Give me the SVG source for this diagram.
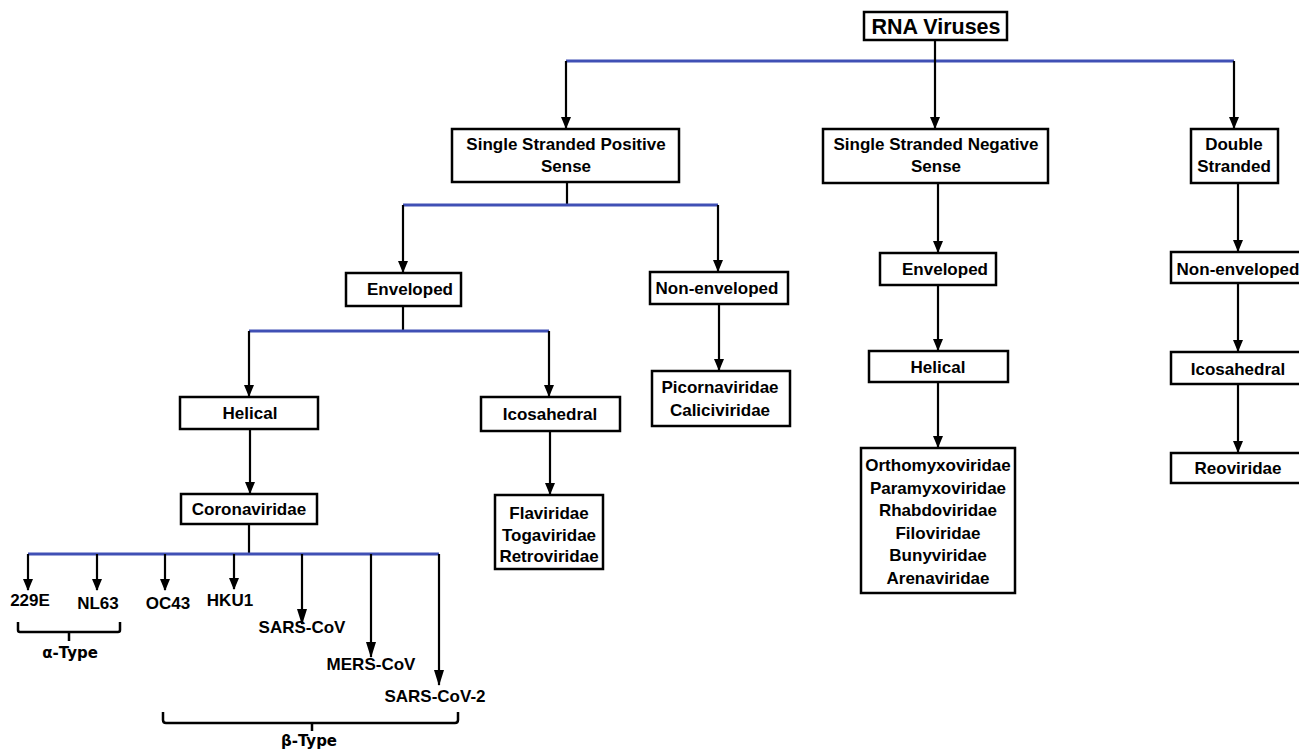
<svg xmlns="http://www.w3.org/2000/svg" width="1299" height="750" viewBox="0 0 1299 750">
<style>
.box{fill:#fff;stroke:#000;stroke-width:2.5}
.t{font-family:"Liberation Sans",Arial,sans-serif;font-weight:bold;font-size:17px;fill:#000;text-anchor:middle}
.big{font-size:21.5px}
.g{font-family:"DejaVu Sans","Liberation Sans",sans-serif;font-size:15px}
.bl{stroke:#4050b5;stroke-width:3;fill:none}
.ar{stroke:#000;stroke-width:2.2;fill:none;marker-end:url(#ah)}
.arl{stroke:#000;stroke-width:2.2;fill:none;marker-end:url(#ahl)}
.ln{stroke:#000;stroke-width:2.2;fill:none}
.br{stroke:#000;stroke-width:2.5;fill:none}
</style>
<defs>
<marker id="ah" markerWidth="12" markerHeight="12" refX="11" refY="6" orient="auto" markerUnits="userSpaceOnUse">
<path d="M0,1 L12,6 L0,11 Z" fill="#000"/>
</marker>
<marker id="ahl" markerWidth="16" markerHeight="12" refX="15" refY="6" orient="auto" markerUnits="userSpaceOnUse">
<path d="M0,1 L16,6 L0,11 Z" fill="#000"/>
</marker>
</defs>
<g id="connectors">
<line class="bl" x1="566" y1="61" x2="1234" y2="61"/>
<line class="ar" x1="566" y1="61" x2="566" y2="128"/>
<line class="ar" x1="935" y1="40" x2="935" y2="128"/>
<line class="ar" x1="1234" y1="61" x2="1234" y2="128"/>
<line class="ln" x1="567" y1="182" x2="567" y2="205"/>
<line class="bl" x1="403" y1="205" x2="718" y2="205"/>
<line class="ar" x1="403" y1="205" x2="403" y2="272"/>
<line class="ar" x1="718" y1="205" x2="718" y2="271"/>
<line class="ln" x1="403" y1="306" x2="403" y2="331"/>
<line class="bl" x1="249" y1="331" x2="549" y2="331"/>
<line class="ar" x1="249" y1="331" x2="249" y2="396"/>
<line class="ar" x1="549" y1="331" x2="549" y2="396"/>
<line class="ar" x1="250" y1="429" x2="250" y2="493"/>
<line class="ar" x1="550" y1="431" x2="550" y2="494"/>
<line class="ar" x1="719" y1="304" x2="719" y2="370"/>
<line class="ar" x1="938" y1="183" x2="938" y2="252"/>
<line class="ar" x1="938" y1="285" x2="938" y2="350"/>
<line class="ar" x1="938" y1="382" x2="938" y2="447"/>
<line class="ar" x1="1238" y1="183" x2="1238" y2="251"/>
<line class="ar" x1="1238" y1="283" x2="1238" y2="351"/>
<line class="ar" x1="1238" y1="384" x2="1238" y2="452"/>
<line class="ln" x1="249" y1="524" x2="249" y2="554"/>
<line class="bl" x1="28" y1="554" x2="439" y2="554"/>
<line class="ar" x1="28" y1="554" x2="28" y2="590"/>
<line class="ar" x1="97" y1="554" x2="97" y2="590"/>
<line class="ar" x1="165" y1="554" x2="165" y2="590"/>
<line class="ar" x1="234" y1="554" x2="234" y2="589"/>
<line class="arl" x1="302" y1="554" x2="302" y2="624"/>
<line class="arl" x1="371" y1="554" x2="371" y2="657"/>
<line class="arl" x1="439" y1="554" x2="439" y2="685"/>
</g>
<g id="n-rna"><rect class="box" x="864" y="12" width="143" height="28"/><text class="t big" x="936" y="34">RNA Viruses</text></g>
<g id="n-sspos"><rect class="box" x="452" y="129" width="227" height="53"/><text class="t" x="566" y="150">Single Stranded Positive</text><text class="t" x="566" y="172">Sense</text></g>
<g id="n-ssneg"><rect class="box" x="823" y="129" width="225" height="54"/><text class="t" x="936" y="150">Single Stranded Negative</text><text class="t" x="936" y="172">Sense</text></g>
<g id="n-ds"><rect class="box" x="1191" y="129" width="87" height="54"/><text class="t" x="1234" y="150">Double</text><text class="t" x="1234" y="172">Stranded</text></g>
<g id="n-env1"><rect class="box" x="346" y="273" width="115" height="33"/><text class="t" x="410" y="295">Enveloped</text></g>
<g id="n-nonenv1"><rect class="box" x="650" y="272" width="138" height="32"/><text class="t" x="717" y="294">Non-enveloped</text></g>
<g id="n-env2"><rect class="box" x="880" y="253" width="116" height="32"/><text class="t" x="945" y="275">Enveloped</text></g>
<g id="n-nonenv2"><rect class="box" x="1171" y="252" width="134" height="31"/><text class="t" x="1238" y="275">Non-enveloped</text></g>
<g id="n-helical1"><rect class="box" x="180" y="397" width="138" height="32"/><text class="t" x="250" y="419">Helical</text></g>
<g id="n-icosa1"><rect class="box" x="481" y="397" width="139" height="34"/><text class="t" x="550" y="420">Icosahedral</text></g>
<g id="n-picorna"><rect class="box" x="652" y="371" width="138" height="55"/><text class="t" x="720" y="393">Picornaviridae</text><text class="t" x="720" y="416">Caliciviridae</text></g>
<g id="n-helical2"><rect class="box" x="869" y="351" width="139" height="31"/><text class="t" x="938" y="373">Helical</text></g>
<g id="n-icosa2"><rect class="box" x="1171" y="352" width="134" height="32"/><text class="t" x="1238" y="375">Icosahedral</text></g>
<g id="n-corona"><rect class="box" x="181" y="494" width="136" height="30"/><text class="t" x="249" y="515">Coronaviridae</text></g>
<g id="n-flavi"><rect class="box" x="495" y="495" width="108" height="74"/><text class="t" x="549" y="519">Flaviridae</text><text class="t" x="549" y="541">Togaviridae</text><text class="t" x="549" y="562">Retroviridae</text></g>
<g id="n-ortho"><rect class="box" x="861" y="448" width="154" height="145"/><text class="t" x="938" y="471">Orthomyxoviridae</text><text class="t" x="938" y="493.5">Paramyxoviridae</text><text class="t" x="938" y="516">Rhabdoviridae</text><text class="t" x="938" y="538.5">Filoviridae</text><text class="t" x="938" y="561">Bunyviridae</text><text class="t" x="938" y="583.5">Arenaviridae</text></g>
<g id="n-reo"><rect class="box" x="1171" y="453" width="134" height="30"/><text class="t" x="1238" y="474">Reoviridae</text></g>
<g id="n-229e"><text class="t" x="30" y="606">229E</text></g>
<g id="n-nl63"><text class="t" x="98" y="609">NL63</text></g>
<g id="n-oc43"><text class="t" x="168" y="609">OC43</text></g>
<g id="n-hku1"><text class="t" x="230" y="606">HKU1</text></g>
<g id="n-sars"><text class="t" x="302" y="633">SARS-CoV</text></g>
<g id="n-mers"><text class="t" x="371" y="670">MERS-CoV</text></g>
<g id="n-sars2"><text class="t" x="435" y="702">SARS-CoV-2</text></g>
<g id="alpha"><path class="br" d="M18,622 V630 Q18,632 20,632 H118 Q120,632 120,630 V622 M69,632 V641"/><text class="t g" x="70" y="658">α-Type</text></g>
<g id="beta"><path class="br" d="M163,712 V720 Q163,723 166,723 H455 Q458,723 458,720 V712 M312,723 V731"/><text class="t g" x="309" y="746">β-Type</text></g>
</svg>
